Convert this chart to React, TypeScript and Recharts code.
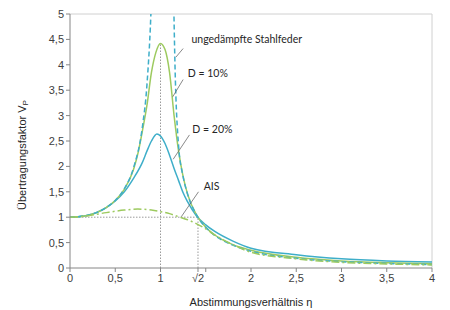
import React from "react";
import { Line, LineChart, ReferenceDot, ReferenceLine, XAxis, YAxis } from "recharts";

// frequency ratio η and transmissibility values
const etaUndamped = [0, 0.2, 0.4, 0.5, 0.6, 0.7, 0.8, 0.85, 0.9, 0.92, 1.0, 1.13, 1.16, 1.2, 1.25, 1.3, 1.4, 1.5, 1.6, 1.8, 2.0, 2.5, 3.0, 3.5, 4.0];
const undamped = [1, 1.04, 1.19, 1.33, 1.56, 1.96, 2.78, 3.6, 5.3, 6.5, null, 7.0, 4.0, 2.4, 1.8, 1.45, 1.04, 0.8, 0.64, 0.45, 0.33, 0.19, 0.125, 0.09, 0.067];

const etaD10 = [0, 0.2, 0.4, 0.5, 0.6, 0.7, 0.75, 0.8, 0.85, 0.9, 0.95, 1.0, 1.05, 1.1, 1.15, 1.2, 1.25, 1.3, 1.4, 1.5, 1.6, 1.8, 2.0, 2.5, 3.0, 3.5, 4.0];
const d10 = [1, 1.04, 1.19, 1.33, 1.55, 1.93, 2.25, 2.7, 3.2, 3.85, 4.25, 4.42, 4.3, 3.85, 3.0, 2.3, 1.8, 1.45, 1.04, 0.8, 0.65, 0.46, 0.35, 0.21, 0.14, 0.105, 0.085];

const etaD20 = [0, 0.1, 0.2, 0.3, 0.4, 0.5, 0.6, 0.7, 0.8, 0.85, 0.9, 0.96, 1.0, 1.05, 1.1, 1.15, 1.2, 1.25, 1.3, 1.4, 1.5, 1.6, 1.8, 2.0, 2.5, 3.0, 3.5, 4.0];
const d20 = [1, 1.01, 1.04, 1.1, 1.19, 1.32, 1.5, 1.76, 2.08, 2.3, 2.5, 2.64, 2.6, 2.45, 2.22, 1.96, 1.72, 1.48, 1.3, 1.02, 0.85, 0.72, 0.53, 0.39, 0.26, 0.18, 0.14, 0.12];

const etaAis = [0, 0.2, 0.4, 0.6, 0.75, 0.9, 1.0, 1.1, 1.2, 1.3, 1.4, 1.5, 1.6, 1.8, 2.0, 2.5, 3.0, 3.5, 4.0];
const ais = [1, 1.03, 1.09, 1.14, 1.16, 1.14, 1.11, 1.07, 1.01, 0.95, 0.87, 0.77, 0.65, 0.46, 0.31, 0.18, 0.11, 0.08, 0.06];

const xTicks = [0, 0.5, 1, Math.SQRT2, 1.5, 2, 2.5, 3, 3.5, 4];
const yTicks = [0, 0.5, 1, 1.5, 2, 2.5, 3, 3.5, 4, 4.5, 5];

const zip = (xs: number[], ys: (number | null)[]) => xs.map((x, i) => ({ x, y: ys[i] }));

const GREEN = "#9dca5f";
const TEAL = "#3eaec9";
const GRID = "#9a9a9a";
const LEADER = "#6b6b6b";

const comma = (v: number) => String(v).replace(".", ",");

function fmtX(v: number) {
  if (Math.abs(v - Math.SQRT2) < 1e-6) return "√2";
  if (v === 1.5) return "";
  return comma(v);
}

const tickStyle = { fontSize: 11, fill: "#404040", fontFamily: "Liberation Sans, Arial, sans-serif" };

function Note(props: any) {
  const { viewBox, value } = props;
  return (
    <text x={viewBox.x + 2} y={viewBox.y} dominantBaseline="central" fontSize={10.5} fill="#262626" fontFamily="Lato, sans-serif">
      {value}
    </text>
  );
}

function YLabel(props: any) {
  const { viewBox } = props;
  const cy = viewBox.y + viewBox.height / 2 + 14;
  return (
    <text
      x={22}
      y={cy}
      transform={`rotate(-90, 22, ${cy})`}
      textAnchor="middle"
      dominantBaseline="central"
      fontSize={11}
      fill="#262626"
      fontFamily="Liberation Sans, Arial, sans-serif"
    >
      Übertragungsfaktor V
      <tspan fontSize={8} dy={3}>P</tspan>
    </text>
  );
}

const notes = [
  { x: 1.32, y: 4.5, text: "ungedämpfte Stahlfeder", from: [1.25, 4.32], to: [1.17, 4.15] },
  { x: 1.28, y: 3.83, text: "D = 10%", from: [1.25, 3.71], to: [1.135, 3.37] },
  { x: 1.33, y: 2.73, text: "D = 20%", from: [1.32, 2.62], to: [1.14, 2.14] },
  { x: 1.455, y: 1.61, text: "AIS", from: [1.42, 1.5], to: [1.23, 1.01] },
];

export default function App() {
  return (
    <div style={{ position: "absolute", left: 0, top: 0, background: "#fff" }}>
      <LineChart width={450} height={310} margin={{ top: 14, right: 18, bottom: 0, left: 0 }}>
        <XAxis
          type="number"
          dataKey="x"
          domain={[0, 4]}
          ticks={xTicks}
          tickFormatter={fmtX}
          tick={tickStyle}
          tickSize={4}
          interval={0}
          height={42}
          stroke="#868686"
          label={{ value: "Abstimmungsverhältnis η", position: "insideBottom", offset: 4, fontSize: 11, fill: "#262626", fontFamily: "Liberation Sans, Arial, sans-serif" }}
        />
        <YAxis
          type="number"
          domain={[0, 5]}
          ticks={yTicks}
          tickFormatter={comma}
          tick={tickStyle}
          tickSize={4}
          interval={0}
          width={70}
          allowDataOverflow
          stroke="#868686"
          label={<YLabel />}
        />
        <ReferenceLine y={5} stroke="#d0d0d0" />
        <ReferenceLine x={4} stroke="#d0d0d0" />
        <ReferenceLine segment={[{ x: 1, y: 0 }, { x: 1, y: 4.42 }]} stroke={GRID} strokeDasharray="1.5 1.5" />
        <ReferenceLine segment={[{ x: Math.SQRT2, y: 0 }, { x: Math.SQRT2, y: 1 }]} stroke={GRID} strokeDasharray="1.5 1.5" />
        <ReferenceLine segment={[{ x: 0, y: 1 }, { x: Math.SQRT2, y: 1 }]} stroke={GRID} strokeDasharray="1.5 1.5" />

        <Line data={zip(etaD20, d20)} dataKey="y" type="monotone" stroke={TEAL} strokeWidth={1.5} dot={false} isAnimationActive={false} />
        <Line data={zip(etaD10, d10)} dataKey="y" type="monotone" stroke={GREEN} strokeWidth={1.5} dot={false} isAnimationActive={false} />
        <Line data={zip(etaUndamped, undamped)} dataKey="y" type="monotone" stroke={TEAL} strokeWidth={1.5} strokeDasharray="5 3" dot={false} isAnimationActive={false} />
        <Line data={zip(etaAis, ais)} dataKey="y" type="monotone" stroke={GREEN} strokeWidth={1.5} strokeDasharray="8 3 2 3" dot={false} isAnimationActive={false} />

        {notes.map((n) => (
          <ReferenceLine
            key={n.text + "l"}
            segment={[{ x: n.from[0], y: n.from[1] }, { x: n.to[0], y: n.to[1] }]}
            stroke={LEADER}
            strokeWidth={0.8}
          />
        ))}
        {notes.map((n) => (
          <ReferenceDot key={n.text} x={n.x} y={n.y} r={0} stroke="none" label={<Note value={n.text} />} />
        ))}
      </LineChart>
    </div>
  );
}
